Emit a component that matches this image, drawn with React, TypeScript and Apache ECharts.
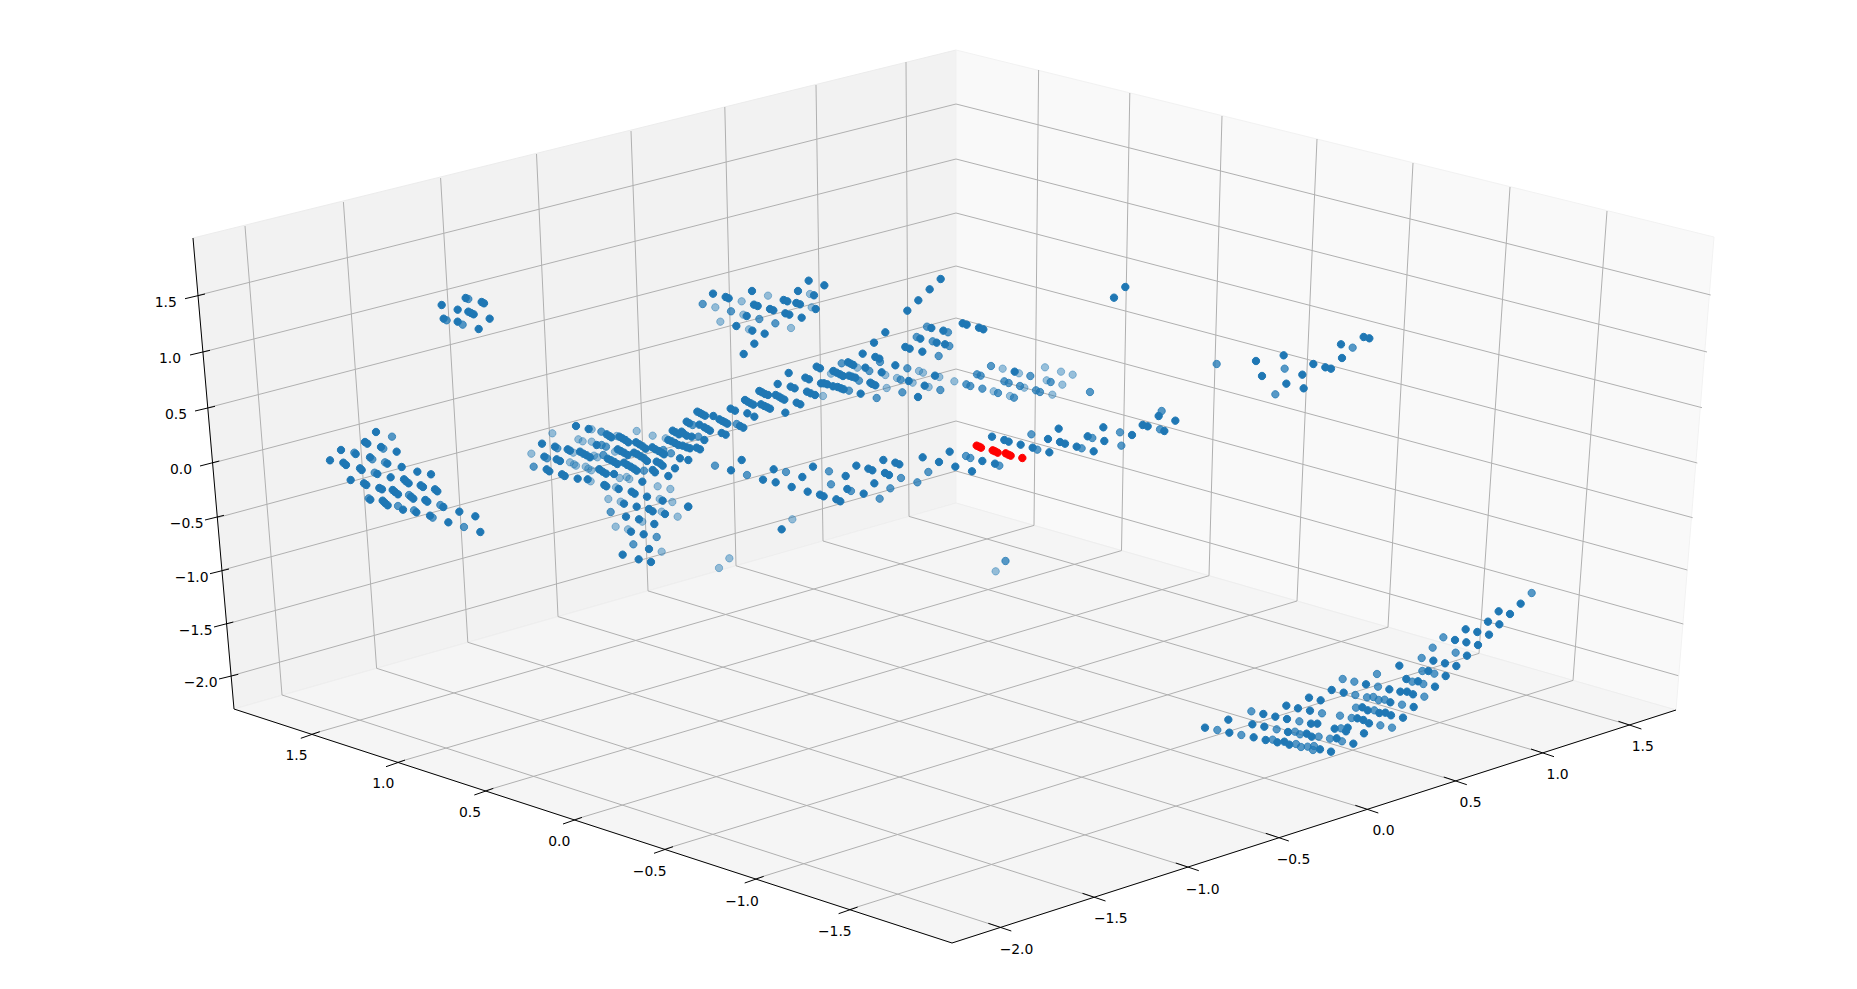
import React, { useEffect, useRef } from "react";
import * as echarts from "echarts";

type P = [number, number];
const WIDTH = 1857;
const HEIGHT = 989;
const at = (ox: number, oy: number, pts: P[]): P[] => pts.map(([x, y]) => [ox + x / 3, oy + y / 3] as P);

// ---- scatter values, grouped by the crop they were read from ----
const islandOpaque: P[] = [[425,105],[497,84],[545,96],[552,100],[473,119],[505,125],[513,129],[521,133],[569,146],[431,146],[473,155],[536,177]];
const islandMid: P[] = [[505,87],[440,151],[488,164]];
const leftOpaque: P[] = [[228,486],[195,516],[202,521],[243,531],[123,540],[167,552],[290,545],[90,571],[210,562],[262,581],[130,578],[138,585],[180,595],[185,600],[305,591],[352,605],[393,613],[232,612],[272,622],[152,630],[312,628],[318,634],[326,640],[192,640],[199,645],[362,646],[369,651],[238,654],[246,658],[405,658],[412,664],[278,660],[285,666],[294,673],[333,680],[340,686],[376,690],[382,695],[211,689],[248,692],[255,699],[263,706],[430,711],[309,719],[349,727],[478,725],[390,737],[526,739],[445,757],[541,786]];
const leftMid: P[] = [[276,500],[250,536],[163,548],[217,568],[255,577],[224,608],[327,675],[206,685],[294,708],[342,721],[421,705],[398,743],[492,771]];
const denseOpaque: P[] = [[228,78],[266,87],[126,131],[165,140],[133,170],[170,178],[180,183],[203,148],[210,152],[140,208],[148,214],[186,223],[194,228],[233,236],[263,238],[320,103],[328,108],[334,112],[358,110],[367,115],[376,120],[385,127],[408,127],[418,133],[428,139],[437,146],[457,142],[466,148],[476,153],[485,158],[492,163],[518,92],[527,97],[537,103],[505,120],[515,124],[525,129],[535,135],[290,135],[240,155],[250,161],[260,166],[270,172],[353,148],[362,153],[372,158],[383,165],[402,158],[412,163],[422,169],[432,175],[441,183],[323,176],[333,181],[343,186],[352,192],[372,188],[382,195],[392,200],[402,206],[410,212],[298,208],[308,215],[318,221],[342,222],[458,210],[465,217],[470,185],[480,190],[488,197],[525,205],[505,228],[427,245],[313,255],[319,259],[356,267],[395,275],[404,281],[441,290],[488,302],[372,311],[410,320],[447,327],[458,334],[495,342],[378,350],[417,358],[463,372],[393,395],[431,403],[447,447],[368,464],[416,478],[453,486],[540,175],[565,180]];
const denseMid: P[] = [[304,95],[172,145],[141,175],[101,200],[332,336],[564,320],[470,411],[400,433],[310,165],[432,212],[513,160],[490,150],[305,135],[318,140]];
const denseFaint: P[] = [[157,100],[94,161],[235,118],[248,124],[275,125],[350,108],[410,93],[458,107],[497,115],[275,88],[345,155],[282,167],[292,172],[210,187],[222,193],[228,197],[257,200],[265,206],[274,211],[297,208],[359,234],[380,231],[388,237],[272,244],[348,262],[473,259],[511,267],[325,297],[362,305],[479,297],[517,306],[485,335],[533,350],[427,365],[347,380],[384,388],[485,455],[220,158]];
const floorBackOpaque: P[] = [[185,90],[153,121],[281,118],[249,149],[287,157],[367,141],[399,110],[335,171],[383,185],[420,194],[431,199],[469,208],[481,214],[497,138],[502,177],[529,107],[551,191],[565,116],[577,121],[583,160],[610,90],[615,129],[627,135],[646,98],[658,103],[728,82],[777,96],[809,65],[826,110],[305,298],[25,230]];
const floorBackMid: P[] = [[201,135],[318,126],[447,124],[453,163],[513,183],[631,175],[599,206],[663,144],[712,157],[745,126],[105,107]];
const floorBackFaint: P[] = [[337,268],[148,385],[117,414],[947,424]];
const strayMid: P[] = [[1005.5,561]];
const ridgeOpaque: P[] = [[99,101],[137,111],[146,115],[216,93],[200,168],[222,134],[233,138],[311,120],[322,124],[354,93],[349,129],[360,133],[270,147],[280,151],[316,160],[328,164],[407,147],[402,106],[433,76],[386,62],[169,198],[217,212],[254,221],[365,173],[223,251],[191,282],[782,57],[749,88],[715,121],[682,152],[616,217],[582,248],[548,281],[754,204],[790,212],[721,236],[770,248],[795,253],[676,261],[689,266],[727,275],[586,291],[598,296],[646,316],[556,323],[605,337],[504,307],[512,311],[520,315],[460,333],[470,338],[480,343],[489,348],[410,320],[420,325],[326,339],[507,347],[516,350],[526,353],[376,353],[387,358],[765,347],[686,363],[293,372],[423,370],[432,370],[442,373],[459,379],[473,381],[483,385],[491,388],[571,368],[577,372],[586,376],[734,377],[332,380],[344,385],[714,411],[542,401],[238,393],[246,397],[255,402],[264,405],[381,395],[392,400],[405,405],[287,405],[297,410],[305,415],[313,419],[195,420],[203,425],[212,430],[220,434],[350,428],[361,433],[243,433],[253,438],[262,442],[270,446],[152,446],[165,452],[316,458],[202,460],[223,470],[100,468],[52,455],[60,459],[67,463],[75,467],[118,478],[127,483],[135,487],[142,491],[180,498],[190,503],[20,485],[28,490],[58,494],[73,502],[82,507],[90,512],[125,519],[137,524],[5,515],[10,520],[20,527],[35,530],[73,540],[60,568],[50,563],[30,565],[20,562],[8,557]];
const ridgeMid: P[] = [[68,132],[153,154],[238,177],[286,190],[741,200],[804,217],[710,231],[758,244],[808,258],[776,288],[600,306],[568,333],[682,325],[485,310],[537,362],[662,359],[781,390],[667,397],[590,414],[507,392],[170,492],[38,495],[55,530]];
const ridgeFaint: P[] = [[190,164],[395,142],[390,102],[106,142],[185,124],[264,107],[121,185],[207,208],[333,204],[616,345],[532,323],[453,341],[778,351],[717,333],[729,338],[651,354],[698,368],[746,381],[620,384],[823,364],[429,408]];
const rightOpaque: P[] = [[8,40],[20,44],[57,53],[70,58],[164,185],[96,380],[133,390],[146,395],[182,404],[218,413],[264,387],[296,356],[300,396],[315,401],[350,410],[401,424],[383,379],[433,393],[430,352],[516,375],[548,345],[563,349],[596,318],[646,332],[613,363],[268,427],[67,453],[36,484],[105,461]];
const rightMid: P[] = [[93,168],[51,193],[62,197],[211,198],[19,223],[31,228],[67,236],[133,214],[146,219],[180,228],[228,241],[240,246],[272,216],[114,249],[162,263],[390,246],[214,373],[232,419],[365,415],[397,384],[480,367],[484,407],[605,303],[600,358],[118,467],[18,438],[31,444]];
const rightFaint: P[] = [[128,176],[177,190],[255,172],[303,185],[338,194],[193,233],[260,211],[307,224],[101,244],[150,258],[277,254]];
const selectedRed: P[] = [[50,407],[57,410],[63,413],[98,421],[105,424],[113,428],[137,430],[145,434],[152,437],[187,444]];
const farOpaque: P[] = [[106,51],[72,83],[498,273],[581,256],[516,318],[637,314],[589,341],[641,355],[670,282],[706,292],[723,296],[756,264],[753,223],[821,201],[838,205]];
const farMid: P[] = [[380,282],[584,296],[556,373],[788,233]];
const floorOpaque: P[] = [[45,443],[115,419],[118,458],[191,472],[187,433],[223,440],[220,402],[256,410],[289,377],[324,385],[360,392],[357,353],[392,361],[425,330],[461,338],[291,417],[294,456],[350,461],[365,470],[363,431],[382,431],[227,480],[262,487],[283,485],[298,494],[390,508],[423,515],[434,446],[468,454],[473,443],[490,491],[522,460],[440,475],[537,430],[520,420],[502,415],[517,382],[533,391],[568,399],[586,398],[603,406],[639,413],[671,381],[601,367],[631,335],[651,335],[669,343],[598,328],[528,313],[628,257],[649,297],[684,304],[715,273],[735,320],[767,288],[730,242],[765,250],[799,258],[831,227],[864,195],[829,187],[795,180],[827,148],[862,156],[897,164],[894,125],[928,133],[926,94],[960,102],[992,71]];
const floorMid: P[] = [[82,450],[154,465],[184,394],[260,448],[328,424],[396,400],[450,407],[485,414],[315,455],[330,463],[386,470],[248,479],[318,492],[333,501],[353,500],[372,498],[369,510],[420,476],[456,484],[453,445],[458,297],[493,305],[564,320],[496,345],[531,352],[550,351],[566,360],[584,359],[498,383],[553,391],[571,436],[606,443],[636,374],[703,350],[667,305],[700,312],[697,273],[733,281],[695,234],[728,203],[797,218],[760,172],[561,282],[1025,39]];

const pointsOpaque: P[] = [
  ...at(300,270,islandOpaque), ...at(300,270,leftOpaque), ...at(500,400,denseOpaque),
  ...at(680,430,floorBackOpaque), ...at(680,260,ridgeOpaque), ...at(960,310,rightOpaque),
  ...at(1090,270,farOpaque), ...at(1190,580,floorOpaque),
];
const pointsMid: P[] = [
  ...at(300,270,islandMid), ...at(300,270,leftMid), ...at(500,400,denseMid),
  ...at(680,430,floorBackMid), ...at(680,260,ridgeMid), ...at(960,310,rightMid),
  ...at(1090,270,farMid), ...at(1190,580,floorMid), ...strayMid,
];
const pointsFaint: P[] = [
  ...at(500,400,denseFaint), ...at(680,430,floorBackFaint), ...at(680,260,ridgeFaint), ...at(960,310,rightFaint),
];
const pointsRed: P[] = at(960,310,selectedRed);

// ---- box of the 3D axes ----
const paneLeft: P[] = [[193,238],[956,50],[956,503],[234,709]];
const paneRight: P[] = [[956,50],[1714,237],[1676,710],[956,503]];
const paneFloor: P[] = [[234,709],[956,503],[1676,710],[952,943]];
const axisLines: number[][] = [[193,238,234,709],[234,709,952,943],[952,943,1676,710]];

// z ticks: outer end, inner end of each tick, point on the back edge
const zTickLabels = ["1.5","1.0","0.5","0.0","\u22120.5","\u22121.0","\u22121.5","\u22122.0"];
const zTicks: number[][] = [[185,298.7,205,294],[190,355,210,350.3],[195,411,215,406.3],[200,466,219.3,461],[205,520,224,515.3],[210,573.7,229,569],[214,627,233.3,622],[219,679,238.3,674.3]];
const zAxisPoints: P[] = [[199.3,295],[203,352],[208,407.7],[212.7,463],[217.3,517.7],[222.7,570],[226.7,624],[231.7,675.7]];
const zBackY = [104,159,213,266,318,369,421,471];
const zLabelPos: P[] = [[165.7,302],[170,358],[176,414],[181,469],[186.7,522.7],[191.7,576.7],[195.7,630],[200.7,681.7]];
const MIRROR = 1910;

// wall verticals
const leftWallTop: P[] = [[245,226],[343.4,202],[440.6,178],[536.5,154],[631,131],[724.8,107],[816,85],[906,62]];
const leftWallBottom: P[] = [[282,695],[376.6,668.3],[467.8,642.3],[558,616.6],[648,590.9],[736,565.8],[823,541],[909,516.4]];
const rightWallTop: P[] = [[1038.6,70],[1129.8,93],[1222,116],[1317,139],[1413,163],[1510,187],[1607,211]];
const rightWallBottom: P[] = [[1034,525.4],[1121.5,550.6],[1209,575.7],[1297,601],[1388,627.2],[1479,653.4],[1573,680.4]];

// floor axes
const frontRightLabels = ["\u22122.0","\u22121.5","\u22121.0","\u22120.5","0.0","0.5","1.0","1.5"];
const frontRightPoints: P[] = [[999.3,927],[1093.5,897],[1186.8,866.7],[1276.8,837],[1366.3,809],[1454.8,780.7],[1542,752.7],[1629.4,725]];
const frontRightLabelPos: P[] = [[1016.5,949.3],[1110.8,918.3],[1202.6,889.3],[1293.5,859.3],[1383.5,830.3],[1470.6,802.3],[1557.6,774],[1642.8,746.3]];
const frontLeftLabels = ["1.5","1.0","0.5","0.0","\u22120.5","\u22121.0","\u22121.5"];
const frontLeftPoints: P[] = [[310.8,734.3],[396,762.7],[484.3,791],[573,820],[664,849.3],[754.7,879],[848.6,909.7]];
const frontLeftLabelPos: P[] = [[296.5,755],[383.3,783.3],[470,812.3],[559.3,841.3],[649.6,871.3],[742,901.3],[834.8,931.3]];

const gridLines: number[][] = [
  ...zAxisPoints.flatMap(([x, y], i) => [[x, y, 956, zBackY[i]], [956, zBackY[i], MIRROR - x, y]]),
  ...leftWallTop.map((p, i) => [p[0], p[1], leftWallBottom[i][0], leftWallBottom[i][1]]),
  ...rightWallTop.map((p, i) => [p[0], p[1], rightWallBottom[i][0], rightWallBottom[i][1]]),
  ...frontRightPoints.map((p, i) => [p[0], p[1], leftWallBottom[i][0], leftWallBottom[i][1]]),
  ...frontLeftPoints.map((p, i) => [p[0], p[1], rightWallBottom[i][0], rightWallBottom[i][1]]),
];
const tickLines: number[][] = [
  ...zTicks,
  ...frontRightPoints.map(([x, y]) => [x - 11, y - 3.7, x + 12, y + 4]),
  ...frontLeftPoints.map(([x, y]) => [x - 10, y + 4, x + 9, y - 2.6]),
];
const tickTexts: { text: string; pos: P }[] = [
  ...zTickLabels.map((text, i) => ({ text, pos: zLabelPos[i] })),
  ...frontRightLabels.map((text, i) => ({ text, pos: frontRightLabelPos[i] })),
  ...frontLeftLabels.map((text, i) => ({ text, pos: frontLeftLabelPos[i] })),
];

const BLUE = "31,119,180";

function polygonSeries(points: P[], fill: string, edge: string) {
  return {
    type: "custom", silent: true, clip: false, z: 1, data: [[points[0][0], points[0][1]]],
    renderItem: (_: any, api: any) => ({
      type: "polygon",
      shape: { points: points.map((p) => api.coord(p)) },
      style: { fill, stroke: edge, lineWidth: 1 },
    }),
  };
}
function lineSeries(lines: number[][], stroke: string, lineWidth: number, z: number) {
  return {
    type: "custom", silent: true, clip: false, z, data: lines,
    encode: { x: [0, 2], y: [1, 3] },
    renderItem: (_: any, api: any) => {
      const a = api.coord([api.value(0), api.value(1)]);
      const b = api.coord([api.value(2), api.value(3)]);
      return { type: "line", shape: { x1: a[0], y1: a[1], x2: b[0], y2: b[1] }, style: { stroke, lineWidth, fill: "none" } };
    },
  };
}
function dots(data: P[], alpha: number, z: number, rgb = BLUE) {
  return {
    type: "scatter", silent: true, clip: false, z, data, symbol: "circle", symbolSize: 7.4,
    itemStyle: { color: `rgba(${rgb},${alpha})`, borderColor: `rgba(${rgb},${alpha})`, borderWidth: 1, opacity: 1 },
  };
}

export default function App() {
  const ref = useRef<HTMLDivElement>(null);
  useEffect(() => {
    if (!ref.current) return;
    document.body.style.margin = "0";
    const chart = echarts.init(ref.current, undefined, { renderer: "svg" });
    chart.setOption({
      animation: false,
      backgroundColor: "#ffffff",
      grid: { left: 0, right: 0, top: 0, bottom: 0, outerBoundsMode: "none" },
      xAxis: { type: "value", min: 0, max: WIDTH, show: false },
      yAxis: { type: "value", min: 0, max: HEIGHT, inverse: true, show: false },
      tooltip: { show: false },
      series: [
        polygonSeries(paneLeft, "#f2f2f2", "#ececec"),
        polygonSeries(paneRight, "#f9f9f9", "#f2f2f2"),
        polygonSeries(paneFloor, "#f5f5f5", "#eeeeee"),
        lineSeries(gridLines, "#b0b0b0", 1, 2),
        lineSeries(axisLines, "#000000", 1, 3),
        lineSeries(tickLines, "#000000", 1, 3),
        {
          type: "custom", silent: true, clip: false, z: 4,
          data: tickTexts.map((t) => t.pos),
          renderItem: (params: any, api: any) => {
            const c = api.coord([api.value(0), api.value(1)]);
            return {
              type: "text", x: c[0], y: c[1],
              style: {
                text: tickTexts[params.dataIndex].text, fill: "#000000",
                font: "13.9px 'DejaVu Sans'", textAlign: "center", textVerticalAlign: "middle",
              },
            };
          },
        },
        dots(pointsFaint, 0.45, 5),
        dots(pointsMid, 0.75, 6),
        dots(pointsOpaque, 1, 7),
        dots(pointsRed, 1, 8, "255,0,0"),
      ],
    });
    return () => chart.dispose();
  }, []);
  return <div ref={ref} style={{ position: "absolute", left: 0, top: 0, width: WIDTH, height: HEIGHT }} />;
}
